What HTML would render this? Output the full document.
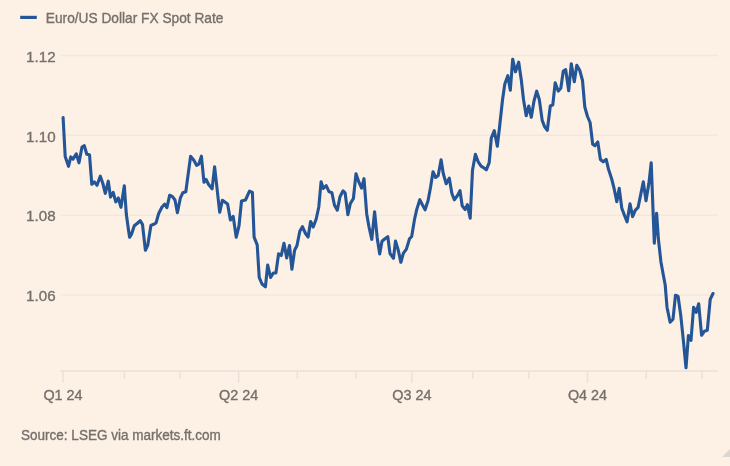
<!DOCTYPE html>
<html><head><meta charset="utf-8"><style>
html,body{margin:0;padding:0;}
body{width:730px;height:466px;background:#FDF0E5;overflow:hidden;position:relative;}
svg{position:absolute;left:0;top:0;filter:blur(0.3px);}
text{font-family:"Liberation Sans",sans-serif;font-size:14.6px;fill:#75706C;stroke:#75706C;stroke-width:0.35px;}
</style></head><body>
<svg width="730" height="466" viewBox="0 0 730 466">
<line x1="60.4" y1="55.6" x2="717.6" y2="55.6" stroke="#F2E8DF" stroke-width="1.5"/>
<text x="26.1" y="61.8" textLength="29.5" lengthAdjust="spacingAndGlyphs">1.12</text>
<line x1="60.4" y1="135.3" x2="717.6" y2="135.3" stroke="#F2E8DF" stroke-width="1.5"/>
<text x="26.1" y="141.5" textLength="29.5" lengthAdjust="spacingAndGlyphs">1.10</text>
<line x1="60.4" y1="215.2" x2="717.6" y2="215.2" stroke="#F2E8DF" stroke-width="1.5"/>
<text x="26.1" y="221.4" textLength="29.5" lengthAdjust="spacingAndGlyphs">1.08</text>
<line x1="60.4" y1="295.0" x2="717.6" y2="295.0" stroke="#F2E8DF" stroke-width="1.5"/>
<text x="26.1" y="301.2" textLength="29.5" lengthAdjust="spacingAndGlyphs">1.06</text>
<line x1="60.4" y1="371" x2="717.6" y2="371" stroke="#E8E0D9" stroke-width="1.6"/>
<line x1="63.0" y1="371" x2="63.0" y2="382.8" stroke="#E8E0D9" stroke-width="1.4"/>
<text x="43.4" y="399.9" style="font-size:14px" textLength="39.2" lengthAdjust="spacingAndGlyphs">Q1 24</text>
<line x1="124.4" y1="371" x2="124.4" y2="378.9" stroke="#E8E0D9" stroke-width="1.4"/>
<line x1="180.2" y1="371" x2="180.2" y2="378.9" stroke="#E8E0D9" stroke-width="1.4"/>
<line x1="238.6" y1="371" x2="238.6" y2="382.8" stroke="#E8E0D9" stroke-width="1.4"/>
<text x="219.0" y="399.9" style="font-size:14px" textLength="39.2" lengthAdjust="spacingAndGlyphs">Q2 24</text>
<line x1="297.3" y1="371" x2="297.3" y2="378.9" stroke="#E8E0D9" stroke-width="1.4"/>
<line x1="355.9" y1="371" x2="355.9" y2="378.9" stroke="#E8E0D9" stroke-width="1.4"/>
<line x1="411.8" y1="371" x2="411.8" y2="382.8" stroke="#E8E0D9" stroke-width="1.4"/>
<text x="392.2" y="399.9" style="font-size:14px" textLength="39.2" lengthAdjust="spacingAndGlyphs">Q3 24</text>
<line x1="472.9" y1="371" x2="472.9" y2="378.9" stroke="#E8E0D9" stroke-width="1.4"/>
<line x1="528.8" y1="371" x2="528.8" y2="378.9" stroke="#E8E0D9" stroke-width="1.4"/>
<line x1="587.5" y1="371" x2="587.5" y2="382.8" stroke="#E8E0D9" stroke-width="1.4"/>
<text x="567.9" y="399.9" style="font-size:14px" textLength="39.2" lengthAdjust="spacingAndGlyphs">Q4 24</text>
<line x1="646.3" y1="371" x2="646.3" y2="378.9" stroke="#E8E0D9" stroke-width="1.4"/>
<line x1="702.0" y1="371" x2="702.0" y2="378.9" stroke="#E8E0D9" stroke-width="1.4"/>
<path d="M63.1,117.6 L65.2,156.5 L68.5,166.3 L70.8,156.9 L73.0,159.1 L76.3,153.9 L79.0,162.8 L82.0,147.0 L84.3,145.7 L86.8,154.3 L89.5,154.7 L91.8,184.3 L94.3,181.9 L97.0,185.3 L100.3,176.2 L102.7,183.0 L105.3,193.3 L108.3,181.2 L110.5,197.1 L113.2,192.4 L115.8,201.8 L118.3,198.0 L121.0,207.3 L124.3,185.7 L126.3,214.0 L128.5,230.0 L129.6,237.3 L131.4,234.5 L134.3,225.8 L137.1,223.5 L140.3,220.7 L142.5,224.5 L145.4,250.3 L147.8,245.0 L150.9,225.4 L153.7,224.3 L156.0,223.0 L158.7,213.5 L162.0,207.0 L164.7,204.2 L166.9,207.7 L169.7,195.2 L172.5,196.6 L175.0,200.0 L177.4,212.8 L180.3,198.2 L182.9,192.7 L185.8,191.7 L190.6,156.2 L194.0,160.5 L196.6,165.3 L198.8,164.2 L201.4,156.2 L204.0,182.3 L206.1,179.4 L208.6,184.5 L212.1,188.8 L214.6,166.7 L219.7,212.3 L222.4,200.2 L227.6,204.0 L230.4,220.0 L233.2,216.4 L236.2,237.3 L239.0,225.8 L241.5,201.0 L245.5,200.0 L249.5,191.2 L252.4,192.5 L254.1,237.2 L257.2,244.8 L259.2,277.4 L262.0,284.0 L265.4,286.8 L267.7,265.0 L270.6,277.5 L273.3,273.0 L275.9,273.0 L278.6,253.8 L281.2,255.6 L284.0,243.2 L286.7,258.0 L289.5,245.5 L291.9,269.3 L294.6,250.3 L297.0,245.5 L299.8,231.2 L302.4,226.7 L305.5,233.5 L308.1,237.0 L310.6,221.5 L313.2,227.0 L316.2,219.0 L318.8,207.0 L321.1,181.7 L323.3,188.5 L326.2,185.7 L329.0,191.6 L331.9,192.8 L334.5,205.3 L337.3,210.1 L340.0,196.8 L343.1,190.8 L345.1,192.8 L347.9,214.8 L350.3,203.6 L353.4,198.5 L356.0,173.7 L358.9,182.2 L361.6,188.1 L364.0,178.7 L366.7,213.9 L369.0,227.0 L371.8,239.3 L374.6,211.7 L377.2,237.9 L379.7,254.0 L382.0,241.2 L384.9,238.8 L387.8,236.7 L390.0,253.5 L393.5,258.3 L395.5,241.0 L398.1,249.6 L400.9,262.3 L403.3,253.4 L406.4,249.1 L409.5,238.8 L411.7,236.5 L414.5,219.5 L416.7,209.6 L419.8,199.7 L422.5,205.0 L425.1,209.8 L428.1,200.5 L430.5,187.5 L433.0,171.7 L435.6,177.5 L438.2,175.5 L441.1,159.7 L443.3,173.8 L446.2,183.8 L449.3,178.2 L451.9,193.5 L454.3,199.8 L457.5,195.5 L460.0,190.7 L462.2,205.8 L465.1,209.5 L467.4,204.6 L470.2,218.3 L472.5,170.3 L475.4,154.2 L478.2,161.8 L481.1,166.1 L483.7,167.8 L486.3,169.8 L489.2,162.6 L491.3,138.0 L494.3,130.7 L497.3,146.3 L499.5,127.5 L502.5,100.0 L504.8,84.0 L507.8,75.7 L510.3,90.3 L512.7,59.2 L515.5,71.8 L518.7,62.2 L521.3,80.0 L523.5,99.5 L526.2,115.8 L528.8,106.0 L531.3,117.3 L534.0,101.0 L536.7,91.2 L539.3,99.5 L542.2,120.4 L544.5,126.5 L547.3,130.3 L550.3,106.0 L552.8,104.8 L555.2,82.7 L558.2,91.1 L560.8,88.3 L563.3,71.0 L565.7,69.7 L568.7,90.8 L571.3,63.7 L574.3,81.8 L576.8,65.2 L579.8,70.5 L582.5,80.5 L584.8,107.0 L587.5,116.5 L590.1,122.5 L592.7,144.3 L594.9,145.8 L597.8,142.0 L600.4,159.5 L603.2,161.8 L606.2,159.4 L608.6,169.6 L611.7,179.0 L614.1,188.5 L616.8,201.8 L619.2,188.2 L621.8,208.2 L624.4,215.1 L627.1,221.8 L630.0,203.7 L632.6,216.6 L635.2,210.3 L638.1,207.4 L640.9,193.6 L643.3,181.7 L646.0,200.8 L648.9,183.3 L651.2,162.7 L654.3,243.3 L656.6,213.2 L658.5,240.0 L660.9,261.7 L663.4,275.5 L665.2,285.0 L667.0,307.2 L670.1,322.3 L673.0,319.2 L675.5,295.2 L678.1,296.5 L680.7,314.9 L683.3,339.8 L686.0,367.8 L688.4,335.6 L691.0,340.3 L693.6,307.2 L696.2,312.3 L698.7,303.8 L701.6,335.3 L704.4,331.2 L707.3,330.3 L710.2,299.4 L713.0,293.5" fill="none" stroke="#245597" stroke-width="3.1" stroke-linejoin="round" stroke-linecap="round"/>
<line x1="20.2" y1="17.4" x2="36.8" y2="17.4" stroke="#245597" stroke-width="3.2"/>
<text x="45.8" y="22.6" style="font-size:14.3px" textLength="177.6" lengthAdjust="spacingAndGlyphs">Euro/US Dollar FX Spot Rate</text>
<text x="21" y="440.1" style="font-size:13.8px" textLength="199.9" lengthAdjust="spacingAndGlyphs">Source: LSEG via markets.ft.com</text>
<path d="M722,457 L730,449 L730,457 Z" fill="#DCD6D0"/>
</svg>
</body></html>
